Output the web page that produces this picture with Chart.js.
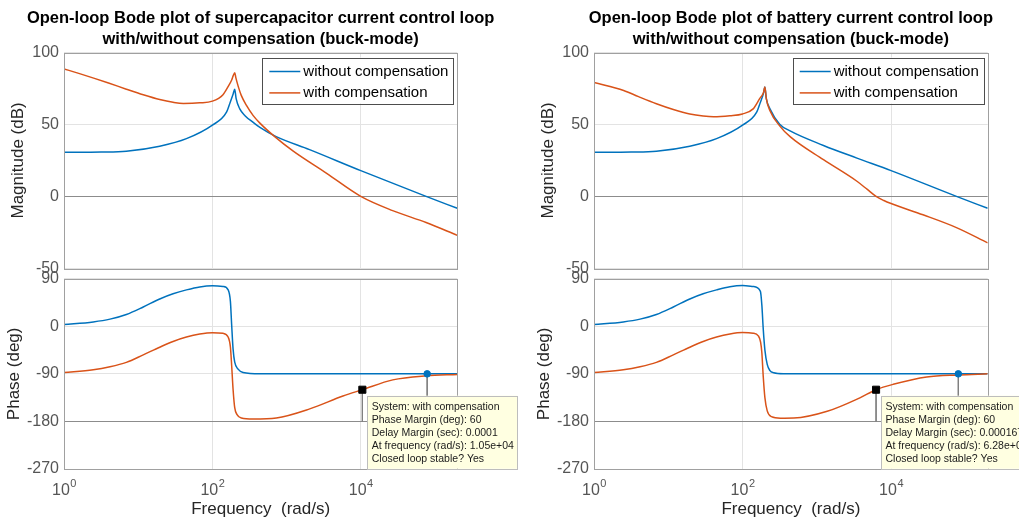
<!DOCTYPE html>
<html>
<head>
<meta charset="utf-8">
<title>Open-loop Bode plots</title>
<script src="https://cdn.jsdelivr.net/npm/chart.js@4.4.0/dist/chart.umd.min.js"></script>
<style>
  body { margin: 0; background: #fff; }
  #wrap { position: relative; width: 1019px; height: 522px; }
  #wrap canvas { position: absolute; left: 0; top: 0; }
</style>
</head>
<body>
<div id="wrap">
  <canvas id="supMag" width="1019" height="522"></canvas>
  <canvas id="batMag" width="1019" height="522"></canvas>
  <canvas id="batPhase" width="1019" height="522"></canvas>
  <canvas id="supPhase" width="1019" height="522"></canvas>
</div>
<script>
// ---- data ----
var seriesNames = ['without compensation', 'with compensation'];
var xTicks = [1, 100, 10000];
var xTickBase = '10';
var xTickExp = ['0', '2', '4'];
var magTicks = [-50, 0, 50, 100];
var phaseTicks = [-270, -180, -90, 0, 90];
var phaseRef = -180;

var supTitle = ['Open-loop Bode plot of supercapacitor current control loop', 'with/without compensation (buck-mode)'];
var batTitle = ['Open-loop Bode plot of battery current control loop', 'with/without compensation (buck-mode)'];

// supercapacitor loop: magnitude (dB)
var supMagFreqA = [1, 3.16, 6.92, 19.5, 44.7, 100, 155, 174, 191, 200, 209, 234, 275, 355, 437, 724, 2040, 10000, 75900, 200000];
var supMagWithout = [30.6, 30.8, 31.4, 34.9, 40.1, 49.5, 58.5, 65.5, 71.4, 74.5, 67.9, 60.8, 56.1, 51.4, 47.9, 41.5, 32.5, 17.9, 0, -8.3];
var supMagFreqB = [1, 1.58, 2.51, 3.98, 6.92, 11.7, 19.5, 29.5, 40.7, 67.6, 100, 139, 162, 182, 191, 200, 207, 224, 245, 288, 355, 437, 692, 1230, 3470, 10000, 26900, 75900, 200000];
var supMagWith = [88.6, 85.5, 82.2, 78.8, 74.5, 70.6, 67.3, 65.4, 64.6, 65.0, 66.2, 70.7, 76.1, 80.9, 83.9, 86.0, 82.5, 76.1, 70.2, 63.2, 56.1, 50.9, 41.5, 31.4, 16.0, 0, -9.9, -18.2, -27.1];
// supercapacitor loop: phase (deg)
var supPhFreqA = [1, 2.48, 4.17, 6.92, 11.7, 19.5, 29.5, 44.7, 67.6, 100, 139, 163, 175, 182, 190, 200, 222, 259, 437, 200000];
var supPhWithout = [3.2, 8.3, 13.5, 22.3, 36.5, 51.7, 61.5, 68.9, 74.5, 76.6, 75.3, 69, 46.6, 2, -42.7, -68, -81, -87.4, -90, -90];
var supPhFreqB = [1, 2.48, 4.17, 6.92, 11.7, 19.5, 29.5, 44.7, 67.6, 100, 139, 163, 175, 182, 190, 200, 215, 246, 353, 728, 2050, 5750, 10500, 27000, 76000, 200000];
var supPhWith = [-87.4, -82.3, -76.6, -68.3, -54, -39.6, -28.7, -20.4, -14.7, -12.1, -13.4, -20.4, -39.6, -74.6, -119, -154, -167, -173.5, -175.5, -173.5, -156.3, -132, -120, -101.4, -93.8, -91.2];
var supPmFreq = [10500], supPmPhase = [-120];
var supXoFreq = [78500], supXoPhase = [-90];
var supTip = ['System: with compensation', 'Phase Margin (deg): 60', 'Delay Margin (sec): 0.0001', 'At frequency (rad/s): 1.05e+04', 'Closed loop stable? Yes'];

// battery loop: magnitude (dB)
var batMagFreqA = [1, 3.16, 6.92, 19.5, 44.7, 100, 155, 174, 191, 200, 209, 234, 316, 437, 1230, 3470, 10000, 75900, 200000];
var batMagWithout = [30.6, 30.8, 31.4, 34.9, 40.1, 49.5, 58.5, 65.5, 71.4, 76.1, 68.0, 60.8, 50.2, 45.5, 35.4, 26.6, 17.9, 0, -8.3];
var batMagFreqB = [1, 2.51, 3.98, 6.92, 11.7, 19.5, 29.5, 40.7, 67.6, 100, 139, 170, 191, 200, 209, 234, 316, 437, 1230, 3470, 4790, 6280, 8000, 10000, 26900, 75900, 200000];
var batMagWith = [79.2, 73.6, 69.3, 64.4, 60.4, 57.3, 55.9, 55.4, 56.1, 57.3, 60.8, 67.9, 72.0, 76.1, 68.0, 59.6, 49.0, 41.5, 25.5, 10.5, 4.8, 0, -2.9, -5.0, -12.8, -21.7, -32.3];
// battery loop: phase (deg)
var batPhFreqA = [1, 2.48, 4.17, 6.92, 11.7, 19.5, 29.5, 44.7, 67.6, 100, 139, 174, 182, 190, 200, 215, 234, 263, 355, 200000];
var batPhWithout = [3.2, 8.3, 13.5, 22.3, 36.5, 51.7, 61.5, 68.9, 74.8, 77, 75.3, 66, 40, -5, -45, -72, -84, -88, -90, -90];
var batPhFreqB = [1, 2.48, 4.17, 6.92, 11.7, 19.5, 29.5, 44.7, 67.6, 100, 139, 163, 175, 182, 190, 200, 215, 245, 324, 490, 1380, 3800, 6280, 10700, 30200, 81300, 200000];
var batPhWith = [-87.5, -82.3, -76.6, -68.3, -54, -39.6, -28.7, -20.4, -14.7, -12, -13, -18, -30, -50, -95, -135, -160, -171, -174, -173.7, -160.9, -135.4, -120, -109.8, -95.8, -92, -90];
var batPmFreq = [6280], batPmPhase = [-120];
var batXoFreq = [80400], batXoPhase = [-90];
var batTip = ['System: with compensation', 'Phase Margin (deg): 60', 'Delay Margin (sec): 0.000167', 'At frequency (rad/s): 6.28e+03', 'Closed loop stable? Yes'];

// ---- styling ----
var BLUE = '#0072BD', ORANGE = '#D95319';
var FONT = "'Liberation Sans', Arial, Helvetica, sans-serif";
Chart.defaults.font.family = FONT;

function pts(f, v) {
  return f.map(function (x, i) { return { x: x, y: v[i] }; });
}

function curve(label, color, f, v, order) {
  return {
    label: label, data: pts(f, v), borderColor: color, borderWidth: 1.5,
    pointRadius: 0, fill: false, cubicInterpolationMode: 'monotone', order: order
  };
}

// axes frame, legend inside plot, datatip box, 10^n tick labels, two-line titles
var bodePlugin = {
  id: 'bode',
  afterDatasetsDraw: function (chart, args, o) {
    var a = chart.chartArea, ctx = chart.ctx;
    ctx.save();
    ctx.strokeStyle = '#a0a0a0';
    ctx.lineWidth = 1;
    ctx.strokeRect(Math.round(a.left) + 0.5, Math.round(a.top) + 0.5, Math.round(a.right - a.left), Math.round(a.bottom - a.top));

    if (o.title) {
      ctx.fillStyle = '#000';
      ctx.font = 'bold 16.5px ' + FONT;
      ctx.textAlign = 'center';
      ctx.textBaseline = 'alphabetic';
      var cx = (a.left + a.right) / 2;
      ctx.fillText(o.title[0], cx, 23);
      ctx.fillText(o.title[1], cx, 44);
    }

    if (o.legend) {
      var items = chart.data.datasets.filter(function (d) { return seriesNames.indexOf(d.label) >= 0; });
      var bw = 191, bh = 46;
      var bx = a.right - 4 - bw, by = a.top + 5;
      ctx.fillStyle = '#fff';
      ctx.fillRect(bx, by, bw, bh);
      ctx.strokeStyle = '#4d4d4d';
      ctx.strokeRect(Math.round(bx) + 0.5, Math.round(by) + 0.5, bw, bh);
      ctx.font = '15px ' + FONT;
      ctx.textAlign = 'left';
      ctx.textBaseline = 'middle';
      items.forEach(function (d, i) {
        var ry = by + 14 + i * 21.4;
        ctx.strokeStyle = d.borderColor;
        ctx.lineWidth = 1.5;
        ctx.beginPath();
        ctx.moveTo(bx + 7, ry);
        ctx.lineTo(bx + 38, ry);
        ctx.stroke();
        ctx.fillStyle = '#000';
        ctx.fillText(d.label, bx + 41, ry);
      });
      ctx.lineWidth = 1;
    }

    if (o.tip) {
      var xs = chart.scales.x, ys = chart.scales.y;
      var px = xs.getPixelForValue(o.tip.x), py = ys.getPixelForValue(o.tip.y);
      ctx.font = '10.5px ' + FONT;
      var tw = 0;
      o.tip.lines.forEach(function (l) { tw = Math.max(tw, ctx.measureText(l).width); });
      var tx = px + 5, ty = py + 6, tW = tw + 8, tH = 73;
      ctx.fillStyle = '#ffffe1';
      ctx.fillRect(tx, ty, tW, tH);
      ctx.strokeStyle = '#bdbdbd';
      ctx.strokeRect(Math.round(tx) + 0.5, Math.round(ty) + 0.5, Math.round(tW), tH);
      ctx.fillStyle = '#1a1a1a';
      ctx.textAlign = 'left';
      ctx.textBaseline = 'middle';
      o.tip.lines.forEach(function (l, i) { ctx.fillText(l, tx + 4.4, ty + 11 + i * 13.2); });
    }

    if (o.expTicks) {
      var sx = chart.scales.x;
      ctx.fillStyle = '#555';
      ctx.textAlign = 'left';
      ctx.textBaseline = 'alphabetic';
      sx.ticks.forEach(function (t, i) {
        var p = sx.getPixelForValue(t.value);
        ctx.font = '16px ' + FONT;
        var w1 = ctx.measureText(xTickBase).width;
        ctx.font = '11px ' + FONT;
        var w2 = ctx.measureText(xTickExp[i]).width;
        var x0 = p - (w1 + w2) / 2;
        ctx.font = '16px ' + FONT;
        ctx.fillText(xTickBase, x0, 495);
        ctx.font = '11px ' + FONT;
        ctx.fillText(xTickExp[i], x0 + w1 + 0.5, 487);
      });
    }
    ctx.restore();
  }
};

function bodeChart(id, area, opt) {
  var xH = opt.phase ? 53 : 0;
  var padLeft = area.yTitle - 10.2;
  return new Chart(document.getElementById(id), {
    type: 'line',
    data: { datasets: opt.datasets },
    options: {
      responsive: false,
      animation: false,
      events: [],
      layout: { padding: { left: padLeft, top: area.top, right: 1019 - area.right, bottom: 522 - area.bottom - xH } },
      scales: {
        x: {
          type: 'logarithmic', min: 1, max: 200000,
          afterBuildTicks: function (s) { s.ticks = xTicks.map(function (v) { return { value: v }; }); },
          afterFit: function (s) { s.height = xH; },
          ticks: { display: false },
          grid: { color: '#e3e3e3', drawTicks: false },
          border: { display: false },
          title: {
            display: !!opt.phase, text: 'Frequency  (rad/s)', color: '#262626',
            font: { size: 17 }, padding: { top: 0, bottom: 2 }
          }
        },
        y: {
          min: opt.yTicks[0], max: opt.yTicks[opt.yTicks.length - 1],
          afterBuildTicks: function (s) { s.ticks = opt.yTicks.map(function (v) { return { value: v }; }); },
          afterFit: function (s) { s.width = area.left - padLeft; },
          ticks: { font: { size: 16 }, color: '#555', padding: 5 },
          grid: {
            color: function (c) { return c.tick && c.tick.value === opt.ref ? '#8c8c8c' : '#e3e3e3'; },
            drawTicks: false
          },
          border: { display: false },
          title: { display: true, text: opt.yLabel, color: '#262626', font: { size: 17 }, padding: 0 }
        }
      },
      plugins: {
        legend: { display: false },
        tooltip: { enabled: false },
        bode: { title: opt.title, legend: opt.legend, tip: opt.tip, expTicks: opt.phase }
      }
    },
    plugins: [bodePlugin]
  });
}

function phaseSets(fA, vA, fB, vB, pmF, pmP, xoF, xoP) {
  return [
    curve(seriesNames[0], BLUE, fA, vA, 4),
    curve(seriesNames[1], ORANGE, fB, vB, 3),
    { label: '', data: [{ x: pmF[0], y: pmP[0] }, { x: pmF[0], y: phaseRef }], borderColor: '#808080', borderWidth: 1, pointRadius: 0, order: 2 },
    { label: '', data: [{ x: xoF[0], y: xoP[0] }, { x: xoF[0], y: phaseRef }], borderColor: '#808080', borderWidth: 1, pointRadius: 0, order: 2 },
    { label: '', data: pts(xoF, xoP), showLine: false, pointRadius: 3.3, pointStyle: 'circle', pointBackgroundColor: BLUE, pointBorderColor: BLUE, order: 1 },
    { label: '', data: pts(pmF, pmP), showLine: false, pointRadius: 5, pointStyle: 'rect', pointBackgroundColor: '#000', pointBorderColor: '#000', order: 0 }
  ];
}

bodeChart('supMag', { left: 64, right: 457.3, top: 52.5, bottom: 268.3, yTitle: 18.5 }, {
  yTicks: magTicks, ref: 0, yLabel: 'Magnitude (dB)', title: supTitle, legend: true,
  datasets: [curve(seriesNames[0], BLUE, supMagFreqA, supMagWithout, 2), curve(seriesNames[1], ORANGE, supMagFreqB, supMagWith, 1)]
});
bodeChart('batMag', { left: 594, right: 987.7, top: 52.5, bottom: 268.3, yTitle: 548 }, {
  yTicks: magTicks, ref: 0, yLabel: 'Magnitude (dB)', title: batTitle, legend: true,
  datasets: [curve(seriesNames[0], BLUE, batMagFreqA, batMagWithout, 2), curve(seriesNames[1], ORANGE, batMagFreqB, batMagWith, 1)]
});
bodeChart('batPhase', { left: 594, right: 987.7, top: 278.7, bottom: 469, yTitle: 544 }, {
  yTicks: phaseTicks, ref: phaseRef, yLabel: 'Phase (deg)', phase: true,
  tip: { x: batPmFreq[0], y: batPmPhase[0], lines: batTip },
  datasets: phaseSets(batPhFreqA, batPhWithout, batPhFreqB, batPhWith, batPmFreq, batPmPhase, batXoFreq, batXoPhase)
});
bodeChart('supPhase', { left: 64, right: 457.3, top: 278.7, bottom: 469, yTitle: 14 }, {
  yTicks: phaseTicks, ref: phaseRef, yLabel: 'Phase (deg)', phase: true,
  tip: { x: supPmFreq[0], y: supPmPhase[0], lines: supTip },
  datasets: phaseSets(supPhFreqA, supPhWithout, supPhFreqB, supPhWith, supPmFreq, supPmPhase, supXoFreq, supXoPhase)
});
</script>
</body>
</html>
